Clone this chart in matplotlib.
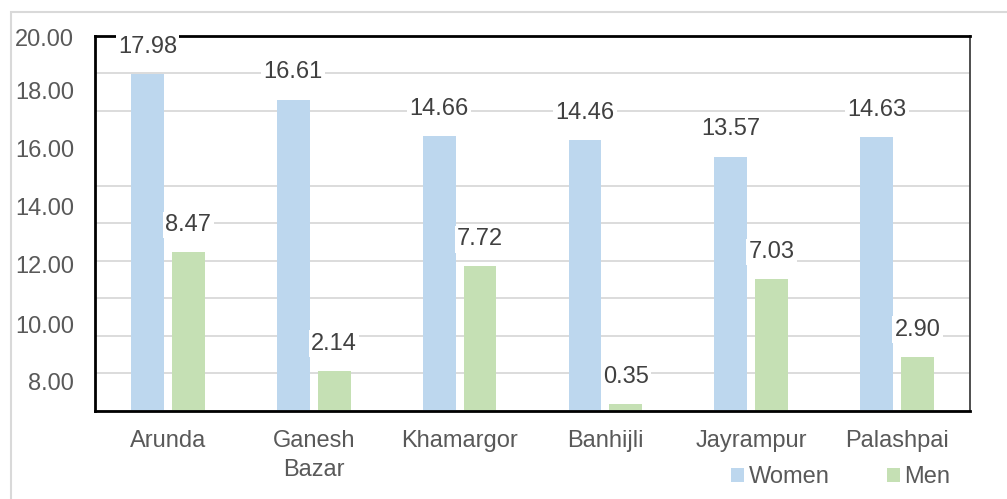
import numpy as np
import matplotlib.pyplot as plt
from matplotlib.patches import Rectangle

plt.rcParams['font.family'] = ['Liberation Sans', 'DejaVu Sans']

villages = ['Arunda', 'Ganesh\nBazar', 'Khamargor', 'Banhijli', 'Jayrampur', 'Palashpai']
women = [17.98, 16.61, 14.66, 14.46, 13.57, 14.63]
men = [8.47, 2.14, 7.72, 0.35, 7.03, 2.90]

# the y labels in the source do not sit on the bar scale, keep them where they were drawn
ytick_labels = ['20.00', '18.00', '16.00', '14.00', '12.00', '10.00', '8.00']
ytick_pos = [19.9, 17.1, 14.0, 10.9, 7.8, 4.6, 1.55]

TEXT = '#595959'
FS = 17

fig = plt.figure(figsize=(10.07, 4.99), dpi=100)
ax = fig.add_axes([0.0943, 0.1764, 0.869, 0.7515])

x = np.arange(len(villages))
w = 0.226
off = 0.14
b1 = ax.bar(x - off, women, width=w, color='#bdd7ee', label='Women', zorder=2)
b2 = ax.bar(x + off, men, width=w, color='#c5e0b4', label='Men', zorder=2)

for bars, vals in ((b1, women), (b2, men)):
    for r, v in zip(bars, vals):
        ax.annotate(f'{v:.2f}', (r.get_x() + r.get_width() / 2, v),
                    xytext=(0, 19.5), textcoords='offset points',
                    ha='center', va='center', fontsize=FS, color='#404040',
                    bbox=dict(boxstyle='square,pad=0.1', fc='white', ec='none'),
                    zorder=4, annotation_clip=False)

ax.set_xlim(-0.5, len(villages) - 0.5)
ax.set_ylim(0, 20)
ax.set_xticks(x)
ax.set_xticklabels(villages, fontsize=FS, color=TEXT, linespacing=1.4)
ax.set_yticks(ytick_pos)
ax.set_yticklabels(ytick_labels, fontsize=FS, color=TEXT)
ax.tick_params(axis='both', length=0)
ax.tick_params(axis='y', pad=15)
ax.tick_params(axis='x', pad=14)

ax.set_yticks(np.arange(0, 21, 2), minor=True)
ax.tick_params(axis='y', which='minor', length=0)
ax.grid(axis='y', which='minor', color='#d9d9d9', lw=1.3, zorder=0)
ax.set_axisbelow(True)

for s in ('left', 'bottom', 'top'):
    ax.spines[s].set_linewidth(2)
    ax.spines[s].set_color('black')
ax.spines['right'].set_linewidth(1.3)
ax.spines['right'].set_color('#404040')
ax.spines['top'].set_zorder(3)

fig.patches.append(Rectangle((11 / 1007, -0.1), 1.2, 1 - 12 / 499 + 0.1,
                             transform=fig.transFigure, fill=False,
                             ec='#d9d9d9', lw=1.5))

fig.legend(handles=[b1, b2], loc='center', bbox_to_anchor=(0.835, 0.044),
           ncol=2, frameon=False, fontsize=FS, labelcolor=TEXT,
           handlelength=0.55, handleheight=0.55, handletextpad=0.2,
           columnspacing=2.4, borderpad=0)

fig.savefig('out.png', dpi=100)
